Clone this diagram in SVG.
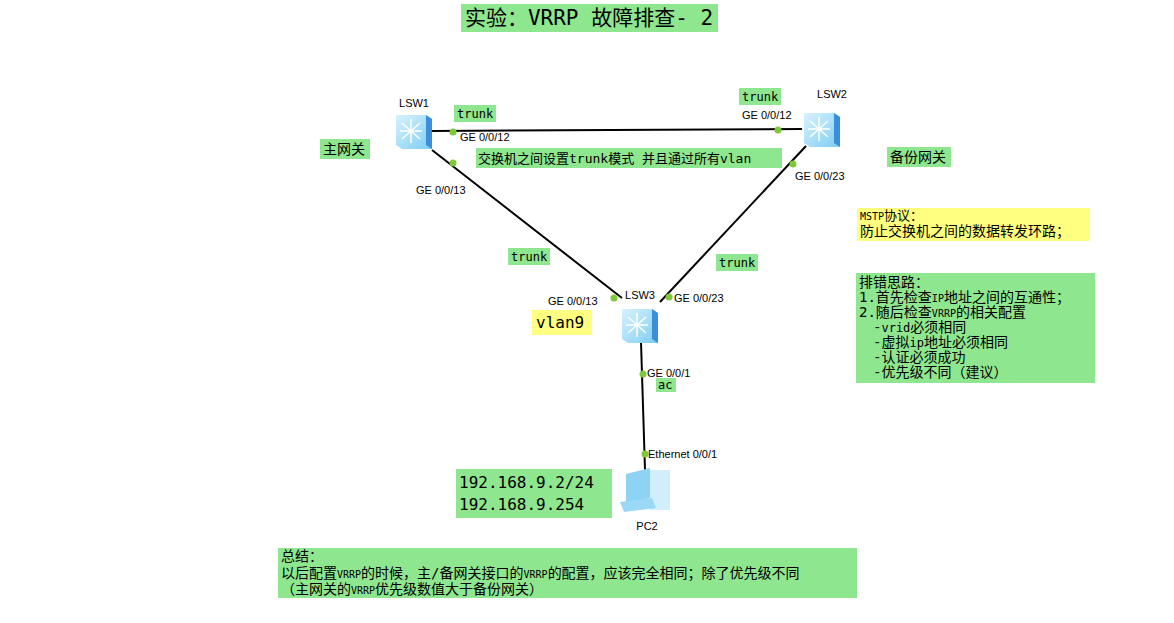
<svg xmlns="http://www.w3.org/2000/svg" width="1174" height="623" viewBox="0 0 1174 623">
<defs>
<style>
.g{fill:#8ee68e}.y{fill:#ffff80}
.m{font-family:"DejaVu Sans Mono","Liberation Mono","Noto Sans CJK SC",monospace;fill:#000;white-space:pre}
.s{font-family:"Liberation Sans",Arial,sans-serif;font-size:11px;fill:#000}
.l{stroke:#000;stroke-width:2;fill:none}
.d{fill:#7ec83a}
</style>
<linearGradient id="sw" x1="0" y1="0" x2="1" y2="1"><stop offset="0" stop-color="#d8f2ff"/><stop offset="1" stop-color="#7ccdf2"/></linearGradient>
<g id="swi">
<path d="M-18,-16 L12,-16 L18,-12 L18,18 L-12,18 L-18,14 Z" fill="url(#sw)"/>
<path d="M12,-16 L18,-12 L18,18 L12,14 Z" fill="#3a8fd8"/>
<g stroke="#fff" stroke-width="1.5"><path d="M-12,-8 L6,8 M6,-8 L-12,8 M-3,-12 L-3,12 M-14,0 L8,0"/></g>
</g>
</defs>
<rect width="1174" height="623" fill="#fff"/>
<rect class="g" x="461" y="4" width="257" height="28"/>
<text class="m" x="589" y="25" font-size="21" text-anchor="middle">实验：VRRP 故障排查- 2</text>
<g id="connectors">
<path class="l" d="M432,131 L802,129"/>
<path class="l" d="M432,150 L622,298"/>
<path class="l" d="M806,146 L660,302"/>
<path class="l" d="M641,342 L645,470"/>
<circle class="d" cx="453" cy="132" r="3.5"/><circle class="d" cx="778" cy="130" r="3.5"/>
<circle class="d" cx="453" cy="163" r="3.5"/><circle class="d" cx="793" cy="164" r="3.5"/>
<circle class="d" cx="614" cy="298" r="3.5"/><circle class="d" cx="669" cy="297" r="3.5"/>
<circle class="d" cx="643" cy="374" r="3.5"/><circle class="d" cx="645" cy="454" r="3.5"/>
</g>
<g id="LSW1"><use href="#swi" x="414" y="131"/><text class="s" x="414" y="107" text-anchor="middle" font-size="12">LSW1</text></g>
<g id="LSW2"><use href="#swi" x="822" y="129"/><text class="s" x="832" y="98" text-anchor="middle" font-size="12">LSW2</text></g>
<g id="LSW3"><use href="#swi" x="640" y="325"/><text class="s" x="640" y="299" text-anchor="middle" font-size="12">LSW3</text></g>
<g id="PC2">
<path d="M626,474 L650,468 L650,498 L626,504 Z" fill="#8fd3f4"/>
<rect x="650" y="470" width="20" height="40" fill="#d0eefc"/>
<path d="M620,502 L652,498 L656,508 L624,512 Z" fill="#9ad8f6"/>
<text class="s" x="647" y="530" text-anchor="middle" font-size="12">PC2</text>
</g>
<g id="labels">
<text class="s" x="460" y="141">GE 0/0/12</text>
<text class="s" x="742" y="119">GE 0/0/12</text>
<text class="s" x="416" y="194">GE 0/0/13</text>
<text class="s" x="795" y="180">GE 0/0/23</text>
<text class="s" x="548" y="305">GE 0/0/13</text>
<text class="s" x="674" y="302">GE 0/0/23</text>
<text class="s" x="647" y="377">GE 0/0/1</text>
<text class="s" x="648" y="458">Ethernet 0/0/1</text>
<rect class="g" x="454" y="105" width="42" height="17"/><text class="m" x="457" y="118" font-size="12">trunk</text>
<rect class="g" x="739" y="88" width="42" height="17"/><text class="m" x="742" y="101" font-size="12">trunk</text>
<rect class="g" x="508" y="248" width="42" height="17"/><text class="m" x="511" y="261" font-size="12">trunk</text>
<rect class="g" x="716" y="254" width="42" height="17"/><text class="m" x="719" y="267" font-size="12">trunk</text>
<rect class="g" x="656" y="378" width="20" height="14"/><text class="m" x="658" y="389" font-size="12">ac</text>
<rect class="g" x="476" y="148" width="306" height="20"/><text class="m" x="478" y="163" font-size="13">交换机之间设置trunk模式 并且通过所有vlan</text>
<rect class="g" x="320" y="139" width="50" height="20"/><text class="m" x="323" y="154" font-size="14">主网关</text>
<rect class="g" x="887" y="147" width="64" height="20"/><text class="m" x="890" y="162" font-size="14">备份网关</text>
<rect class="y" x="532" y="310" width="60" height="25"/><text class="m" x="536" y="328" font-size="16">vlan9</text>
<rect class="g" x="456" y="469" width="156" height="49"/>
<text class="m" x="459" y="488" font-size="16">192.168.9.2/24</text>
<text class="m" x="459" y="510" font-size="16">192.168.9.254</text>
<rect class="y" x="857" y="208" width="233" height="33"/>
<text class="m" x="860" y="220" font-size="13"><tspan font-size="10">MSTP</tspan>协议：</text>
<text class="m" x="860" y="236" font-size="14">防止交换机之间的数据转发环路；</text>
<rect class="g" x="856" y="273" width="239" height="110"/>
<g class="m" font-size="14">
<text x="859" y="287">排错思路：</text>
<text x="859" y="302">1.首先检查<tspan font-size="10">IP</tspan>地址之间的互通性；</text>
<text x="859" y="317">2.随后检查<tspan font-size="10">VRRP</tspan>的相关配置</text>
<text x="873" y="332">-<tspan font-size="12">vrid</tspan>必须相同</text>
<text x="873" y="347">-虚拟<tspan font-size="12">ip</tspan>地址必须相同</text>
<text x="873" y="362">-认证必须成功</text>
<text x="873" y="377">-优先级不同（建议）</text>
</g>
<rect class="g" x="278" y="548" width="579" height="50"/>
<g class="m" font-size="14">
<text x="281" y="561">总结：</text>
<text x="281" y="578">以后配置<tspan font-size="10">VRRP</tspan>的时候，主/备网关接口的<tspan font-size="10">VRRP</tspan>的配置，应该完全相同；除了优先级不同</text>
<text x="281" y="594">（主网关的<tspan font-size="10">VRRP</tspan>优先级数值大于备份网关）</text>
</g>
</g>
</svg>
